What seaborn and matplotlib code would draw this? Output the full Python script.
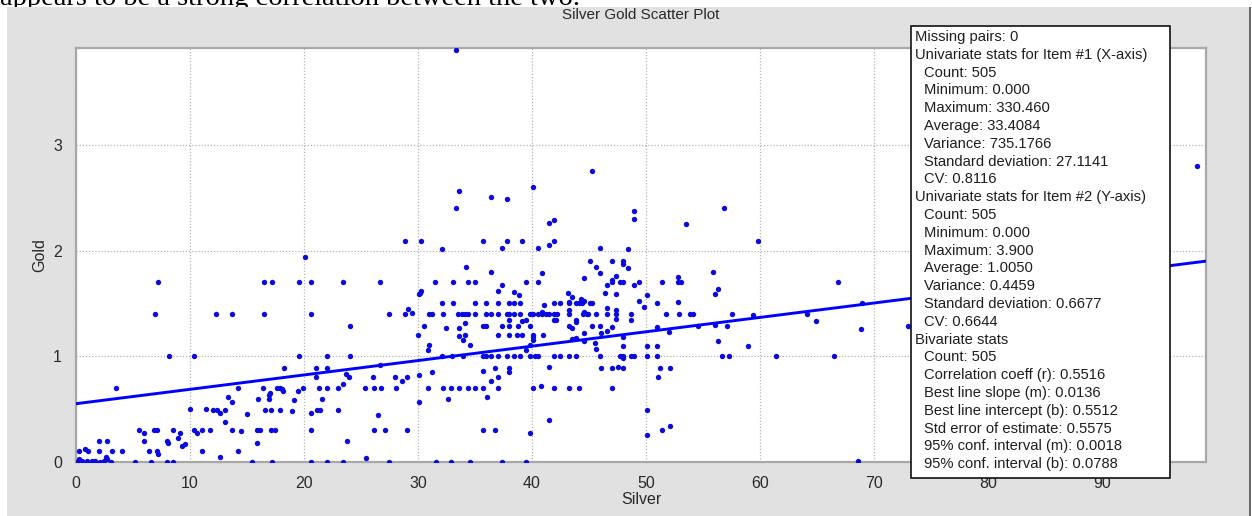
import matplotlib
matplotlib.use('Agg')
import matplotlib.pyplot as plt
import numpy as np
import seaborn as sns
from matplotlib.patches import Rectangle

sns.set_style('white')
plt.rcParams['font.family'] = ['Liberation Sans', 'DejaVu Sans']

# --- data (Silver vs Gold, visible points) ---
silver_low = [0.29, 0.79, 1.08, 2.05, 2.05, 2.69, 3.13, 3.48, 4.0,
              0.05, 0.5, 1.0, 1.4, 1.7, 2.1, 2.5, 2.7, 3.1, 0.3, 2.6,
              5.2, 5.5, 6.0, 6.0, 6.4, 6.55, 6.84, 7.08, 7.13, 7.2, 7.95, 8.04, 7.95, 8.54, 8.54,
              8.98, 9.12, 9.27, 9.56, 10.0,
              10.38, 10.64, 11.02, 11.02, 11.4, 11.75, 12.05, 12.34, 12.63, 12.63, 13.07, 13.07,
              13.36, 13.65, 13.65, 14.18, 14.18, 14.44, 14.97, 15.47, 15.85, 15.99, 16.14, 15.85,
              16.43, 16.58, 16.96, 16.96, 17.02, 17.08, 17.16, 17.08, 17.46, 17.6, 17.9, 17.9,
              18.04, 18.19, 18.25, 18.92, 19.15, 19.5, 19.88, 20.58, 20.58, 20.58, 21.05, 21.05,
              21.11, 21.4, 21.35, 21.55, 21.99, 21.99, 21.99, 23.01, 23.01, 23.39, 23.39, 23.65,
              23.74, 23.98, 25.4, 25.44, 26.08, 26.14, 26.14, 26.52, 26.67, 26.73, 27.1, 27.49,
              27.98, 28.07, 28.57, 29.0, 29.06, 30.12, 30.12, 30.91, 31.2, 31.58, 32.16, 32.6,
              32.9, 33.6, 34.4, 35.0, 35.7, 37.0, 35.7, 36.8, 36.4, 37.0, 37.98, 37.98, 36.1,
              35.7, 36.8, 39.8, 40.1, 40.8, 41.5, 41.9, 41.5, 43.3, 44.1, 46.1, 47.0, 47.6, 48.0,
              47.0, 50.06, 50.06, 51.2, 52.1, 51.1, 51.4, 52.1, 68.6,
              32.9, 34.6, 37.4, 39.5]
gold_low = [0.1, 0.12, 0.1, 0.2, 0.1, 0.2, 0.1, 0.7, 0.1,
            0.0, 0.01, 0.01, 0.01, 0.01, 0.0, 0.01, 0.03, 0.0, 0.03, 0.05,
            0.0, 0.3, 0.27, 0.2, 0.1, 0.0, 0.3, 0.3, 0.1, 0.08, 0.2, 0.18, 0.0, 0.0, 0.3,
            0.23, 0.27, 0.15, 0.17, 0.5,
            0.3, 0.27, 0.3, 0.1, 0.5, 0.3, 0.49, 0.49, 0.46, 0.05, 0.49, 0.38,
            0.61, 0.57, 0.3, 0.7, 0.1, 0.29, 0.45, 0.0, 0.3, 0.6, 0.3, 0.18,
            0.7, 0.49, 0.63, 0.6, 0.65, 0.49, 0.0, 0.3, 0.3, 0.7, 0.49, 0.7,
            0.69, 0.67, 0.89, 0.48, 0.59, 0.67, 0.7, 0.46, 0.3, 0.0, 0.89, 0.8,
            0.49, 0.49, 0.7, 0.6, 0.89, 0.7, 0.0, 0.7, 0.49, 0.74, 0.0, 0.83,
            0.2, 0.8, 0.7, 0.04, 0.8, 0.7, 0.3, 0.44, 0.92, 0.7, 0.3, 0.0,
            0.8, 0.7, 0.77, 0.8, 0.3, 0.82, 0.57, 0.7, 0.85, 0.0, 0.7, 0.6,
            0.7, 0.7, 0.7, 0.7, 0.7, 0.7, 0.86, 0.89, 0.77, 0.8, 0.89, 0.85, 0.61,
            0.3, 0.3, 0.27, 0.7, 0.72, 0.9, 0.7, 0.4, 0.7, 0.7, 0.89, 0.89, 0.9, 0.89,
            0.7, 0.49, 0.26, 0.89, 0.89, 0.8, 0.3, 0.34, 0.01,
            0.0, 0.0, 0.0, 0.0]

silver_high = [6.93, 7.22, 8.19, 10.38, 12.28, 13.71, 16.49, 16.49, 17.16,
               20.1, 19.6, 20.6, 20.6, 23.4, 26.7, 28.9, 30.3, 32.1, 33.3, 33.6, 34.2,
               31.5, 33.1, 34.4, 35.0, 30.2, 30.3, 30.1, 32.1, 33.1, 35.0,
               27.5, 28.9, 31.0, 31.2, 32.2, 33.5, 33.9, 34.1, 34.4, 35.0,
               29.1, 29.5, 24.0, 30.5, 32.5, 33.6, 34.1, 34.1, 34.0, 33.6, 34.6, 30.03, 31.0, 30.9,
               19.6, 21.99, 24.0, 32.1, 32.95, 34.0,
               45.3, 40.06, 36.4, 37.8, 41.5, 41.9, 41.5, 41.9, 35.7, 37.8, 39.1, 37.4, 40.5,
               46.0, 48.4, 48.97, 48.97, 36.4,
               45.1, 45.6, 46.0, 47.0, 48.0, 48.0, 48.4, 44.6, 47.0, 47.4, 47.0, 47.7, 48.0,
               39.5, 40.5, 40.85, 49.0, 49.4, 51.45, 52.8, 52.8, 46.6, 37.0, 37.4, 38.4, 38.9,
               36.0, 37.0, 38.0, 38.4, 39.0, 41.9, 42.5, 43.3, 43.9, 44.1, 44.4, 45.1, 45.3,
               43.2, 43.5, 44.3, 44.6, 46.4, 47.4, 49.4, 49.8, 50.06, 51.0,
               36.0, 36.4, 37.0, 37.8, 38.0, 38.4, 39.0, 39.8, 40.06, 40.5, 40.85, 41.2, 41.5,
               41.9, 42.2, 43.3, 44.5, 44.9, 45.6, 46.6, 47.4, 48.7, 52.9, 51.8,
               41.1, 40.85, 44.6, 44.8,
               38.0, 39.1, 39.5, 41.9, 42.1, 43.3, 43.3, 43.9, 43.9, 46.6, 47.4, 48.7,
               35.7, 36.0, 37.4, 38.0, 38.8, 39.8, 45.3, 46.0, 43.3, 43.5, 47.0, 51.0, 52.05,
               37.0, 38.0, 38.7, 39.1, 40.06, 40.06, 41.0, 40.06,
               46.1, 46.6, 47.4, 43.5, 43.9, 44.6, 44.6, 45.5, 45.6, 48.0, 48.0, 39.5, 39.8,
               35.7, 36.0, 36.4, 37.0, 37.8, 38.4, 39.0, 39.8, 40.3, 40.5, 41.9, 42.5, 43.3,
               43.9, 46.0, 47.7, 48.0, 48.7, 49.0, 50.06, 51.0,
               48.0, 50.06, 51.0,
               56.9, 53.5, 59.8, 55.9, 53.1, 56.1, 56.3, 54.1, 53.9, 57.6, 59.4, 66.9, 64.1,
               64.9, 69.0, 68.9, 73.0, 56.1, 57.1, 54.6, 56.3, 59.0, 56.7, 57.3, 61.4, 66.5, 52.8,
               33.3, 98.4]
gold_high = [1.4, 1.7, 1.0, 1.0, 1.4, 1.4, 1.7, 1.4, 1.7,
             1.94, 1.7, 1.7, 1.4, 1.7, 1.7, 2.09, 2.09, 2.01, 2.40, 2.56, 1.84,
             1.7, 1.7, 1.7, 1.7, 1.6, 1.62, 1.59, 1.5, 1.5, 1.5,
             1.4, 1.4, 1.4, 1.4, 1.4, 1.4, 1.4, 1.4, 1.4, 1.4,
             1.45, 1.41, 1.29, 1.29, 1.27, 1.27, 1.31, 1.2, 1.15, 1.19, 1.11, 1.2, 1.11, 1.06,
             1.0, 1.0, 1.0, 1.0, 1.0, 1.0,
             2.75, 2.6, 2.51, 2.49, 2.26, 2.29, 2.05, 2.09, 2.09, 2.09, 2.09, 2.02, 2.02,
             2.02, 2.01, 2.37, 2.30, 1.80,
             1.9, 1.84, 1.79, 1.9, 1.9, 1.87, 1.83, 1.74, 1.72, 1.76, 1.7, 1.7, 1.7,
             1.7, 1.7, 1.79, 1.67, 1.7, 1.7, 1.7, 1.75, 1.67, 1.62, 1.67, 1.61, 1.58,
             1.5, 1.5, 1.5, 1.5, 1.5, 1.5, 1.5, 1.5, 1.5, 1.5, 1.5, 1.5, 1.5,
             1.6, 1.56, 1.54, 1.52, 1.6, 1.59, 1.52, 1.47, 1.58, 1.5,
             1.4, 1.4, 1.4, 1.4, 1.4, 1.4, 1.4, 1.4, 1.4, 1.4, 1.4, 1.4, 1.4,
             1.4, 1.4, 1.4, 1.4, 1.4, 1.4, 1.4, 1.4, 1.4, 1.4, 1.4,
             1.48, 1.42, 1.42, 1.4,
             1.34, 1.33, 1.34, 1.34, 1.34, 1.44, 1.51, 1.34, 1.32, 1.46, 1.44, 1.34,
             1.29, 1.29, 1.29, 1.29, 1.29, 1.29, 1.29, 1.29, 1.29, 1.27, 1.28, 1.28, 1.23,
             1.2, 1.2, 1.2, 1.2, 1.2, 1.18, 1.2, 1.15,
             1.22, 1.24, 1.35, 1.16, 1.17, 1.22, 1.14, 1.13, 1.07, 1.18, 1.1, 1.06, 1.11,
             1.0, 1.0, 1.0, 1.0, 1.0, 1.0, 1.0, 1.0, 1.0, 1.0, 1.0, 1.0, 1.0,
             1.0, 1.0, 1.0, 1.0, 1.0, 1.0, 1.0, 1.0,
             0.98, 1.1, 1.1,
             2.4, 2.25, 2.09, 1.8, 1.7, 1.59, 1.64, 1.4, 1.4, 1.4, 1.39, 1.7, 1.4,
             1.33, 1.5, 1.26, 1.29, 1.3, 1.29, 1.29, 1.14, 1.1, 1.0, 1.0, 1.0, 1.0, 1.51,
             3.9, 2.8]

silver = np.array(silver_low + silver_high)
gold = np.array(gold_low + gold_high)

line_slope = 0.0136
line_intercept = 0.5512

x_ticks = [0, 10, 20, 30, 40, 50, 60, 70, 80, 90]
y_ticks = [0, 1, 2, 3]

stats_lines = [
    (0, 'Missing pairs: 0'),
    (0, 'Univariate stats for Item #1 (X-axis)'),
    (1, 'Count: 505'),
    (1, 'Minimum: 0.000'),
    (1, 'Maximum: 330.460'),
    (1, 'Average: 33.4084'),
    (1, 'Variance: 735.1766'),
    (1, 'Standard deviation: 27.1141'),
    (1, 'CV: 0.8116'),
    (0, 'Univariate stats for Item #2 (Y-axis)'),
    (1, 'Count: 505'),
    (1, 'Minimum: 0.000'),
    (1, 'Maximum: 3.900'),
    (1, 'Average: 1.0050'),
    (1, 'Variance: 0.4459'),
    (1, 'Standard deviation: 0.6677'),
    (1, 'CV: 0.6644'),
    (0, 'Bivariate stats'),
    (1, 'Count: 505'),
    (1, 'Correlation coeff (r): 0.5516'),
    (1, 'Best line slope (m): 0.0136'),
    (1, 'Best line intercept (b): 0.5512'),
    (1, 'Std error of estimate: 0.5575'),
    (1, '95% conf. interval (m): 0.0018'),
    (1, '95% conf. interval (b): 0.0788'),
]

# --- figure ---
W, H = 1252, 516
fig = plt.figure(figsize=(W / 100, H / 100), dpi=100, facecolor='white')

def fx(px):
    return px / W

def fy(py):
    return 1 - py / H

# grey window panel
fig.add_artist(Rectangle((fx(7), 0), fx(1243), fy(7), transform=fig.transFigure,
                         facecolor='#e1e1e1', edgecolor='none', zorder=-10))
fig.add_artist(Rectangle((fx(1249), 0), fx(2), fy(7), transform=fig.transFigure,
                         facecolor='#6a6a6a', edgecolor='none', zorder=-9))

# text from the document above the screenshot (cut off at the top edge)
fig.text(0.0, fy(5), 'appears to be a strong correlation between the two.',
         family=['Liberation Serif'], fontsize=20.5, color='black', va='baseline', ha='left',
         zorder=-11)

ax = fig.add_axes([fx(76), fy(462), fx(1206 - 76), (462 - 48) / H])
ax.set_facecolor('white')

sns.scatterplot(x=silver, y=gold, ax=ax, color='#0a0ae0', s=15, linewidth=0, zorder=3)
xmax = 99.15
line_x = np.array([0, xmax])
ax.plot(line_x, line_intercept + line_slope * line_x, color='#0000ff', lw=2.1, zorder=4)

ax.set_xlim(0, xmax)
ax.set_ylim(0, 3.915)
ax.set_xticks(x_ticks)
ax.set_yticks(y_ticks)
ax.grid(True, linestyle=(0, (1, 1.5)), color='#b4b4b4', lw=0.9)
for sp in ax.spines.values():
    sp.set_color('#a8a8a8')
    sp.set_linewidth(1.6)
ax.tick_params(axis='both', length=5, width=0.8, color='#b8b8b8', labelsize=11.5,
               labelcolor='#2a2a2a', pad=5)
ax.set_xlabel('Silver', fontsize=11.5, color='#2a2a2a', labelpad=1)
ax.set_ylabel('Gold', fontsize=11.5, color='#2a2a2a', labelpad=4)

fig.text(fx(641), fy(15), 'Silver Gold Scatter Plot', fontsize=11, color='#2a2a2a',
         ha='center', va='center')

# stats box
fig.add_artist(Rectangle((fx(911), fy(478)), fx(1170 - 911), (478 - 26) / H,
                         transform=fig.transFigure, facecolor='white',
                         edgecolor='#111111', lw=1.2, zorder=5))
for i, (indent, line) in enumerate(stats_lines):
    fig.text(fx(915 + 9 * indent), fy(37 + i * 17.8), line, fontsize=10.6,
             color='#1e1e1e', ha='left', va='center', zorder=6)

fig.savefig('out.png', dpi=100, facecolor='white')
